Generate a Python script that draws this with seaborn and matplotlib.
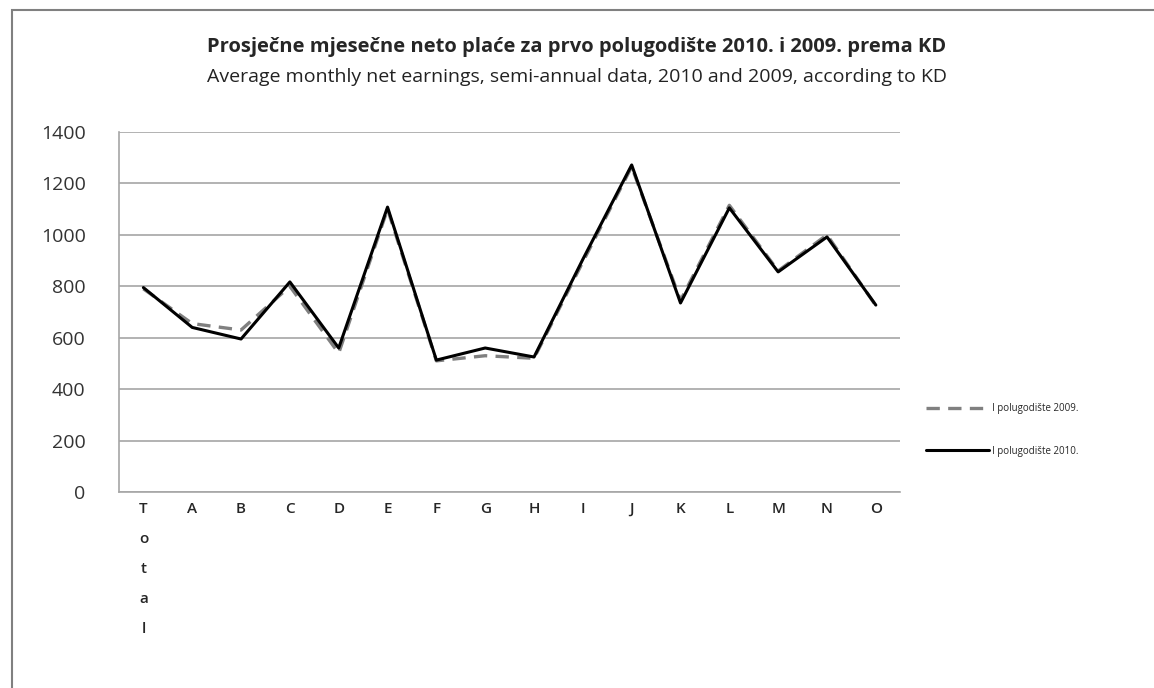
"""Average monthly net earnings, first half of 2009 and 2010, by KD section"""
import numpy as np
import pandas as pd
import seaborn as sns
from matplotlib import pyplot as plt
from matplotlib.patches import Rectangle

categories = ["Total", "A", "B", "C", "D", "E", "F", "G", "H",
              "I", "J", "K", "L", "M", "N", "O"]
tick_labels = ["T\no\nt\na\nl", "A", "B", "C", "D", "E", "F", "G", "H",
               "I", "J", "K", "L", "M", "N", "O"]
earnings_2009 = [790, 655, 630, 800, 540, 1100, 510, 530, 520,
                 895, 1265, 745, 1115, 860, 1000, 725]
earnings_2010 = [795, 640, 595, 817, 560, 1108, 513, 560, 525,
                 905, 1272, 735, 1105, 856, 992, 727]
y_ticks = [0, 200, 400, 600, 800, 1000, 1200, 1400]

sns.set_style("white")
plt.rcParams["font.family"] = ["Open Sans", "DejaVu Sans"]

df = pd.DataFrame({"pos": np.arange(len(categories)),
                   "y2009": earnings_2009, "y2010": earnings_2010})

fig = plt.figure(figsize=(11.54, 6.88), dpi=100)
ax = fig.add_axes([0.1031, 0.2849, 0.677, 0.5232])

sns.lineplot(data=df, x="pos", y="y2009", ax=ax, color="#808080",
             linewidth=2.4, linestyle=(0, (4, 2.5)), label="I polugodište 2009.")
sns.lineplot(data=df, x="pos", y="y2010", ax=ax, color="black",
             linewidth=2.2, label="I polugodište 2010.")

ax.set_xlim(-0.5, len(categories) - 0.5)
ax.set_ylim(0, 1400)
ax.set_yticks(y_ticks)
ax.set_yticklabels([str(v) for v in y_ticks], fontsize=14, color="#333333")
ax.grid(axis="y", color="#a6a6a6", linewidth=1.2)
ax.set_axisbelow(True)

# category labels sit between the boundary tick marks, Excel style
ax.set_xticks(np.arange(-0.5, len(categories), 1.0))
ax.set_xticklabels([])
ax.set_xticks(np.arange(len(categories)), minor=True)
ax.set_xticklabels(tick_labels, minor=True, fontsize=11, fontweight="semibold",
                   va="top", linespacing=2.45)
ax.tick_params(axis="x", which="major", direction="out", length=5,
               color="#a6a6a6", width=1)
ax.tick_params(axis="x", which="minor", length=0, pad=7)
ax.tick_params(axis="y", length=0, pad=24)
ax.set_xlabel("")
ax.set_ylabel("")
for side in ["top", "right"]:
    ax.spines[side].set_visible(False)
for side in ["left", "bottom"]:
    ax.spines[side].set_color("#a6a6a6")
    ax.spines[side].set_linewidth(1.2)

ax.get_legend().remove()
handles, labels = ax.get_legend_handles_labels()
fig.legend(handles, labels, loc="center left", bbox_to_anchor=(0.795, 0.375),
           frameon=False, fontsize=7, handlelength=6.5, handletextpad=0.3,
           labelspacing=3.2)

fig.text(0.5, 0.931, "Prosječne mjesečne neto plaće za prvo polugodište 2010. i 2009. prema KD",
         ha="center", va="center", fontsize=14.5, fontweight="bold")
fig.text(0.5, 0.888, "Average monthly net earnings, semi-annual data, 2010 and 2009, according to KD",
         ha="center", va="center", fontsize=14, color="#222222")

# chart area frame
fig.patches.append(Rectangle((0.0104, -0.05), 1.2, 1.035, transform=fig.transFigure,
                             fill=False, edgecolor="#808080", linewidth=1.5))

fig.savefig("out.png", dpi=100)
